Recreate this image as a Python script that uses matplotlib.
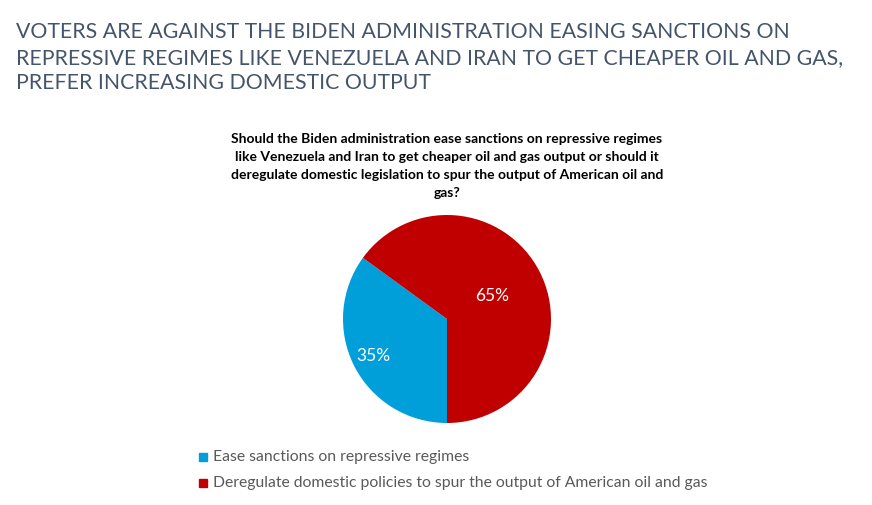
import matplotlib
matplotlib.use("Agg")
import matplotlib.pyplot as plt
import numpy as np

title = ("VOTERS ARE AGAINST THE BIDEN ADMINISTRATION EASING SANCTIONS ON\n"
         "REPRESSIVE REGIMES LIKE VENEZUELA AND IRAN TO GET CHEAPER OIL AND GAS,\n"
         "PREFER INCREASING DOMESTIC OUTPUT")
question = ("Should the Biden administration ease sanctions on repressive regimes\n"
            "like Venezuela and Iran to get cheaper oil and gas output or should it\n"
            "deregulate domestic legislation to spur the output of American oil and\n"
            "gas?")
labels = ["Ease sanctions on repressive regimes",
          "Deregulate domestic policies to spur the output of American oil and gas"]
values = [35, 65]
colors = ["#009FDA", "#C00000"]

plt.rcParams['font.family'] = ['Lato', 'DejaVu Sans']

W, H = 872, 505
fig = plt.figure(figsize=(W / 100, H / 100), dpi=100)
fig.patch.set_facecolor("white")

fig.text(16 / W, 1 - 22 / H, title, ha="left", va="top", fontsize=15.3,
         color="#44546A", linespacing=1.35)
fig.text(447 / W, 1 - 133 / H, question, ha="center", va="top", fontsize=10,
         fontweight="bold", color="black", linespacing=1.6)

# pie: center (447, 319), radius 104 px
ax = fig.add_axes([343 / W, 1 - 423 / H, 208 / W, 208 / H])
wedges, _ = ax.pie(values, colors=colors, startangle=270, counterclock=False,
                   wedgeprops=dict(linewidth=0))
ax.set_aspect("equal")
ax.set_xlim(-1, 1)
ax.set_ylim(-1, 1)
ax.axis("off")

# Excel-style label placement (distance from center, per slice)
label_dist = [0.79, 0.49]
for w, v, d in zip(wedges, values, label_dist):
    ang = np.deg2rad((w.theta1 + w.theta2) / 2)
    ax.text(d * np.cos(ang), d * np.sin(ang), f"{v}%", ha="center",
            va="center", color="white", fontsize=12.5)

# legend
for i, (lab, c) in enumerate(zip(labels, colors)):
    y = 1 - (457 + 26 * i) / H
    fig.patches.append(plt.Rectangle((199 / W, y - 4 / H), 8 / W, 8 / H,
                                     transform=fig.transFigure, color=c))
    fig.text(213 / W, y, lab, ha="left", va="center", fontsize=11.3,
             color="#595959")

fig.savefig("out.png", dpi=100)
